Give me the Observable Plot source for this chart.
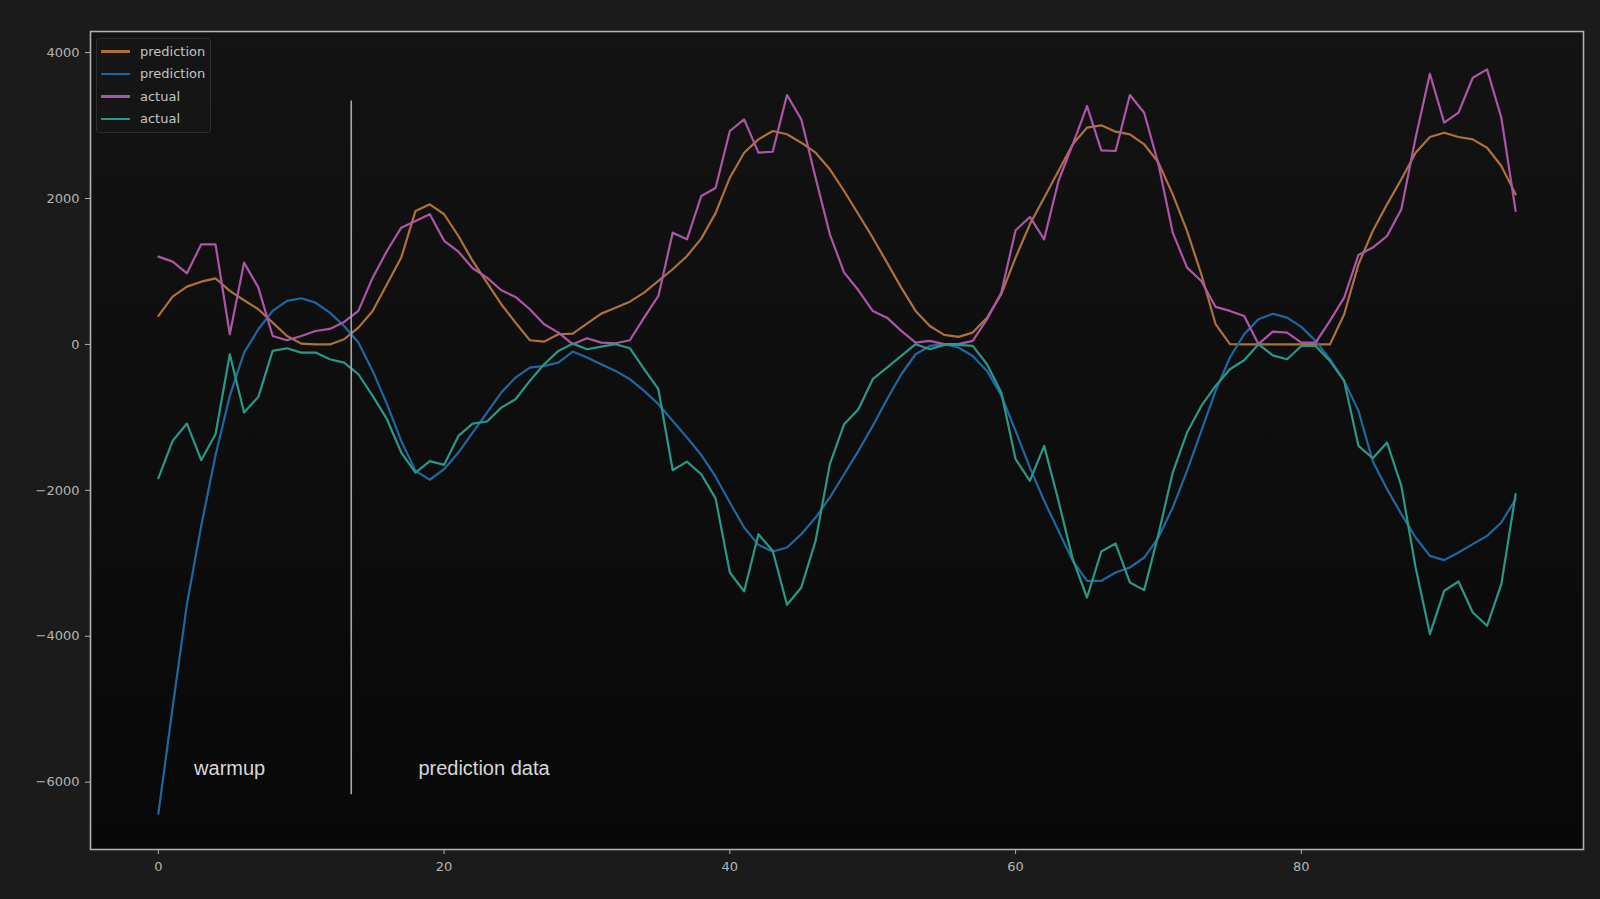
<!DOCTYPE html>
<html>
<head>
<meta charset="utf-8">
<script src="https://cdn.jsdelivr.net/npm/d3@7"></script>
<script src="https://cdn.jsdelivr.net/npm/@observablehq/plot@0.6"></script>
<style>
  html, body { margin: 0; padding: 0; background: #1b1b1b; }
  #wrap { position: relative; width: 1600px; height: 899px; overflow: hidden; }
  #legend {
    position: absolute; left: 96px; top: 38px; width: 115px; height: 95px;
    box-sizing: border-box; border: 1px solid #2e2e2e; border-radius: 3px;
    background: #151515; font-family: "DejaVu Sans", sans-serif; font-size: 13px; color: #c4c4c4;
  }
  .row { position: absolute; left: 0; height: 20px; display: flex; align-items: center; }
  .sw { position: absolute; left: 4px; width: 29px; height: 2.4px; }
  .lab { position: absolute; left: 43px; white-space: nowrap; line-height: 20px; }
</style>
</head>
<body>
<div id="wrap">
  <div id="chart"></div>
  <div id="legend"></div>
</div>
<script>
// x values: time step index 0..95
const steps = d3.range(96);

const predictionA = [390, 655, 792, 860, 906, 733, 605, 482, 299, 116, 11, 0, 0, 71, 230, 459, 825, 1190, 1830, 1920,
  1784, 1486, 1144, 847, 551, 299, 57, 38, 139, 148, 285, 422, 504, 586, 710, 870, 1030, 1212, 1450, 1800,
  2285, 2628, 2811, 2925, 2880, 2765, 2628, 2400, 2103, 1784, 1463, 1121, 778, 459, 253, 130, 103, 162, 367, 688,
  1190, 1646, 2011, 2377, 2743, 2971, 3003, 2916, 2880, 2743, 2491, 2057, 1555, 962, 277, 3, 0, 0, 0, 0,
  0, 0, 0, 413, 1098, 1555, 1920, 2263, 2628, 2843, 2902, 2843, 2811, 2696, 2445, 2057];

const predictionB = [-6432, -4976, -3559, -2487, -1520, -706, -112, 208, 459, 596, 633, 573, 436, 253, 25, -363, -819, -1322, -1733, -1855,
  -1710, -1482, -1208, -934, -660, -455, -318, -295, -249, -98, -180, -272, -363, -477, -637, -819, -1048, -1277, -1515, -1813,
  -2167, -2510, -2747, -2838, -2784, -2601, -2373, -2098, -1779, -1459, -1117, -751, -409, -135, -21, 3, -43, -158, -363, -700,
  -1185, -1688, -2144, -2555, -2966, -3240, -3240, -3126, -3058, -2921, -2647, -2236, -1733, -1185, -637, -180, 139, 345, 420, 367,
  240, 48, -203, -500, -911, -1600, -1984, -2326, -2647, -2898, -2957, -2852, -2737, -2624, -2441, -2121];

const actualA = [1203, 1135, 975, 1372, 1372, 139, 1121, 778, 116, 57, 116, 184, 212, 308, 459, 915, 1281, 1600, 1692, 1784,
  1420, 1271, 1044, 915, 742, 651, 482, 277, 162, 3, 85, 25, 16, 57, 367, 664, 1532, 1441, 2034, 2145,
  2925, 3085, 2628, 2641, 3418, 3085, 2285, 1509, 984, 742, 459, 367, 185, 25, 48, 3, 3, 48, 345, 710,
  1564, 1747, 1441, 2240, 2743, 3267, 2660, 2651, 3418, 3176, 2469, 1532, 1052, 870, 514, 459, 390, 3, 176, 162,
  25, 25, 322, 642, 1226, 1327, 1486, 1852, 2833, 3710, 3039, 3176, 3655, 3770, 3107, 1829];

const actualB = [-1833, -1322, -1085, -1587, -1231, -135, -934, -719, -89, -52, -112, -112, -203, -249, -409, -706, -1025, -1482, -1756, -1600,
  -1651, -1254, -1085, -1057, -866, -751, -500, -272, -89, 11, -66, -30, 3, -52, -340, -614, -1724, -1606, -1779, -2110,
  -3126, -3386, -2601, -2829, -3569, -3332, -2692, -1641, -1094, -888, -477, -318, -158, 3, -66, -7, -7, -21, -272, -660,
  -1573, -1870, -1391, -2144, -2943, -3469, -2838, -2729, -3263, -3368, -2601, -1756, -1208, -843, -569, -340, -217, 3, -150, -203,
  -21, -21, -226, -500, -1391, -1560, -1345, -1939, -3058, -3970, -3377, -3250, -3674, -3857, -3286, -2053];

const seriesNames = ["prediction", "prediction", "actual", "actual"];
const seriesColors = ["#ad723b", "#1e68a2", "#ad56a8", "#2b9887"];
const seriesValues = [predictionA, predictionB, actualA, actualB];

const xTicks = [0, 20, 40, 60, 80];
const yTicks = [-6000, -4000, -2000, 0, 2000, 4000];

const splitX = 13.5;
const splitY = [-6172, 3336];
const annotations = [
  {x: 2.5, y: -5816, text: "warmup"},
  {x: 18.2, y: -5816, text: "prediction data"}
];

const lineMarks = seriesValues.map((vals, k) =>
  Plot.line(steps, {x: d => d, y: d => vals[d], stroke: seriesColors[k], strokeWidth: 2.2, curve: "linear"})
);

const chart = Plot.plot({
  width: 1600,
  height: 899,
  marginLeft: 90,
  marginRight: 17,
  marginTop: 31,
  marginBottom: 50,
  style: {background: "transparent", color: "#b4b4b4", fontFamily: "DejaVu Sans, sans-serif", fontSize: "13px"},
  x: {domain: [-4.75, 99.75], ticks: xTicks, tickSize: 5, tickPadding: 7, label: null, tickFormat: d3.format("d")},
  y: {domain: [-6923, 4289], ticks: yTicks, tickSize: 5, tickPadding: 6, label: null, tickFormat: d3.format("d")},
  marks: [
    Plot.frame({fill: "#101010", stroke: null}),
    ...lineMarks,
    Plot.ruleX([splitX], {y1: splitY[0], y2: splitY[1], stroke: "#a8a8a8", strokeWidth: 1.6}),
    Plot.text(annotations, {x: "x", y: "y", text: "text", textAnchor: "start", lineAnchor: "middle",
      fill: "#d8d8d8", fontSize: 20, fontFamily: "Liberation Sans, Arial, sans-serif"}),
    Plot.frame({stroke: "#b0b0b0", strokeWidth: 1.6})
  ]
});

// Dark gradient fill behind the plot area
const svg = d3.select(chart);
const defs = svg.insert("defs", ":first-child");
const grad = defs.append("linearGradient").attr("id", "bgGrad").attr("x1", 0).attr("y1", 0).attr("x2", 0).attr("y2", 1);
grad.append("stop").attr("offset", "0%").attr("stop-color", "#131313");
grad.append("stop").attr("offset", "100%").attr("stop-color", "#080808");
svg.selectAll('g[aria-label="frame"]').filter(function(d, i) { return i === 0; }).selectAll("rect").attr("fill", "url(#bgGrad)");
svg.select('rect[aria-label="frame"]').attr("fill", "url(#bgGrad)");

document.getElementById("chart").appendChild(chart);

// Legend
const legend = document.getElementById("legend");
seriesNames.forEach((name, k) => {
  const row = document.createElement("div");
  row.className = "row";
  row.style.top = (2.5 + k * 22.5) + "px";
  row.style.width = "100%";
  const sw = document.createElement("div");
  sw.className = "sw";
  sw.style.background = seriesColors[k];
  const lab = document.createElement("span");
  lab.className = "lab";
  lab.textContent = name;
  row.appendChild(sw);
  row.appendChild(lab);
  legend.appendChild(row);
});
</script>
</body>
</html>
